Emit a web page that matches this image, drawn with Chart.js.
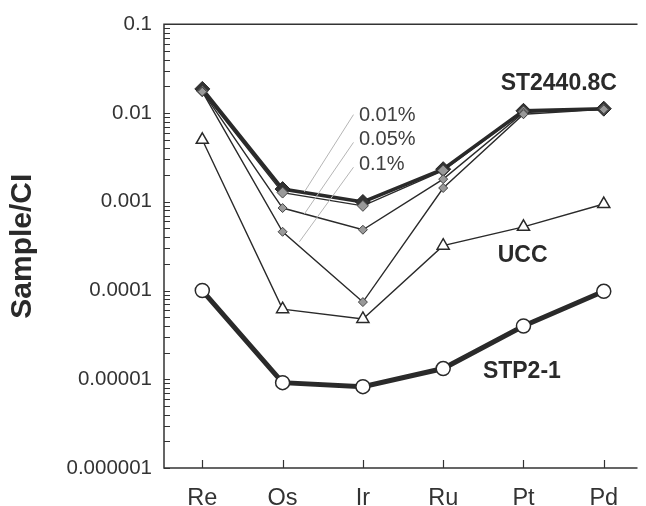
<!DOCTYPE html>
<html>
<head>
<meta charset="utf-8">
<script src="https://cdn.jsdelivr.net/npm/chart.js@4.4.0/dist/chart.umd.min.js"></script>
<style>
  html, body { margin: 0; padding: 0; background: #fff; }
  #wrap { width: 646px; height: 506px; }
</style>
</head>
<body>
<div id="wrap"><canvas id="chart"></canvas></div>
<script>
// ── data ───────────────────────────────────────────────────
const elements = ['Re', 'Os', 'Ir', 'Ru', 'Pt', 'Pd'];
const st2440 = [0.0187, 0.00139, 0.000995, 0.00233, 0.0106, 0.0112];
const mix001 = [0.0176, 0.00127, 0.00090, 0.00225, 0.0104, 0.0110];
const mix005 = [0.0175, 0.00085, 0.000484, 0.00180, 0.0101, 0.0110];
const mix01  = [0.0174, 0.000459, 0.0000741, 0.00143, 0.0097, 0.0110];
const ucc    = [0.0050, 0.0000617, 0.0000478, 0.00032, 0.000522, 0.000944];
const stp21  = [0.0001, 0.00000916, 0.00000826, 0.0000132, 0.0000398, 0.000098];

const yTickValues = [0.000001, 0.00001, 0.0001, 0.001, 0.01, 0.1];
const yTickLabels = ['0.000001', '0.00001', '0.0001', '0.001', '0.01', '0.1'];

// text labels in data units (baseline): [text, x index, y value, align, bold]
const seriesLabels = [
  ['ST2440.8C', 4.44, 0.0183, 'center', true],
  ['UCC', 3.99, 0.000212, 'center', true],
  ['STP2-1', 3.98, 0.0000104, 'center', true],
  ['0.01%', 1.95, 0.00822, 'left', false],
  ['0.05%', 1.95, 0.00432, 'left', false],
  ['0.1%', 1.95, 0.00227, 'left', false]
];
// leader lines from the % labels: [x1, y1, x2, y2] in data units
const leaders = [
  [1.883, 0.0096, 1.271, 0.00129],
  [1.883, 0.00467, 1.271, 0.00073],
  [1.883, 0.00245, 1.21, 0.000355]
];

const FONT = '"Liberation Sans", Arial, Helvetica, sans-serif';
const INK = '#2a2a2a';

const pts = arr => arr.map((v, i) => ({ x: i, y: v }));

// ── inward tick marks, frame and annotations ───────────────
const decor = {
  id: 'decor',
  afterDatasetsDraw(chart) {
    const { ctx, chartArea: a, scales: { x, y } } = chart;
    ctx.save();
    // leader lines
    ctx.strokeStyle = '#b5b5b5';
    ctx.lineWidth = 1;
    leaders.forEach(([x1, y1, x2, y2]) => {
      ctx.beginPath();
      ctx.moveTo(x.getPixelForValue(x1), y.getPixelForValue(y1));
      ctx.lineTo(x.getPixelForValue(x2), y.getPixelForValue(y2));
      ctx.stroke();
    });
    // series labels
    ctx.textBaseline = 'alphabetic';
    seriesLabels.forEach(([t, xi, yv, al, bold]) => {
      ctx.font = bold ? 'bold 23px ' + FONT : '20px ' + FONT;
      ctx.fillStyle = bold ? INK : '#404040';
      ctx.textAlign = al;
      ctx.fillText(t, x.getPixelForValue(xi), y.getPixelForValue(yv));
    });
    // frame
    ctx.strokeStyle = '#333';
    ctx.lineWidth = 1.5;
    ctx.beginPath();
    ctx.moveTo(a.right, a.top);
    ctx.lineTo(a.left, a.top);
    ctx.lineTo(a.left, a.bottom);
    ctx.lineTo(a.right, a.bottom);
    ctx.stroke();
    // ticks
    ctx.lineWidth = 1.2;
    ctx.beginPath();
    y.ticks.forEach(t => {
      const py = Math.round(y.getPixelForValue(t.value)) + 0.5;
      ctx.moveTo(a.left, py);
      ctx.lineTo(a.left + 6, py);
    });
    x.ticks.forEach(t => {
      const px = Math.round(x.getPixelForValue(t.value)) + 0.5;
      ctx.moveTo(px, a.bottom);
      ctx.lineTo(px, a.bottom - 8);
    });
    ctx.stroke();
    ctx.restore();
  }
};

new Chart(document.getElementById('chart'), {
  type: 'line',
  data: {
    datasets: [
      { label: 'ST2440.8C', data: pts(st2440), order: 5, borderColor: INK, borderWidth: 3.5,
        pointStyle: 'rectRot', pointRadius: 7.5, pointBackgroundColor: '#333', pointBorderColor: '#222', pointBorderWidth: 1 },
      { label: '0.01%', data: pts(mix001), order: 4, borderColor: INK, borderWidth: 1.4,
        pointStyle: 'rectRot', pointRadius: 5.5, pointBackgroundColor: '#999', pointBorderColor: '#444', pointBorderWidth: 1 },
      { label: '0.05%', data: pts(mix005), order: 3, borderColor: INK, borderWidth: 1.4,
        pointStyle: 'rectRot', pointRadius: 4.5, pointBackgroundColor: '#999', pointBorderColor: '#444', pointBorderWidth: 1 },
      { label: '0.1%', data: pts(mix01), order: 2, borderColor: INK, borderWidth: 1.4,
        pointStyle: 'rectRot', pointRadius: 4.5, pointBackgroundColor: '#999', pointBorderColor: '#444', pointBorderWidth: 1 },
      { label: 'UCC', data: pts(ucc), order: 1, borderColor: INK, borderWidth: 1.4,
        pointStyle: 'triangle', pointRadius: 7, pointBackgroundColor: '#fff', pointBorderColor: INK, pointBorderWidth: 1.5 },
      { label: 'STP2-1', data: pts(stp21), order: 0, borderColor: INK, borderWidth: 5,
        pointStyle: 'circle', pointRadius: 7, pointBackgroundColor: '#fff', pointBorderColor: INK, pointBorderWidth: 1.5 }
    ]
  },
  options: {
    responsive: true,
    maintainAspectRatio: false,
    animation: false,
    layout: { padding: { top: 21, right: 0, left: 0, bottom: 0 } },
    plugins: { legend: { display: false }, tooltip: { enabled: false } },
    elements: { line: { tension: 0 } },
    scales: {
      x: {
        type: 'linear',
        min: -0.477,
        max: 5.42,
        grid: { display: false, drawTicks: false },
        border: { display: false },
        afterBuildTicks: s => { s.ticks = elements.map((_, i) => ({ value: i })); },
        afterFit: s => { s.height = 38; },
        ticks: {
          autoSkip: false,
          maxRotation: 0,
          padding: 16,
          color: '#333',
          font: { family: FONT, size: 23.5 },
          callback: v => elements[v] ?? ''
        }
      },
      y: {
        type: 'logarithmic',
        min: 0.000001,
        max: 0.1,
        grid: { display: false, drawTicks: false },
        border: { display: false },
        afterBuildTicks: s => {
          const t = [];
          yTickValues.forEach((d, k) => {
            t.push({ value: d });
            if (k < yTickValues.length - 1) for (let m = 2; m <= 9; m++) t.push({ value: d * m });
          });
          s.ticks = t;
        },
        afterFit: s => { s.width = 164; },
        ticks: {
          autoSkip: false,
          padding: 12,
          color: '#333',
          font: { family: FONT, size: 20.5 },
          callback: v => {
            const k = yTickValues.findIndex(d => Math.abs(d - v) / d < 1e-6);
            return k >= 0 ? yTickLabels[k] : '';
          }
        },
        title: {
          display: true,
          text: 'Sample/CI',
          color: INK,
          padding: { top: 5, bottom: 0 },
          font: { family: FONT, size: 30, weight: 'bold' }
        }
      }
    }
  },
  plugins: [decor]
});
</script>
</body>
</html>
